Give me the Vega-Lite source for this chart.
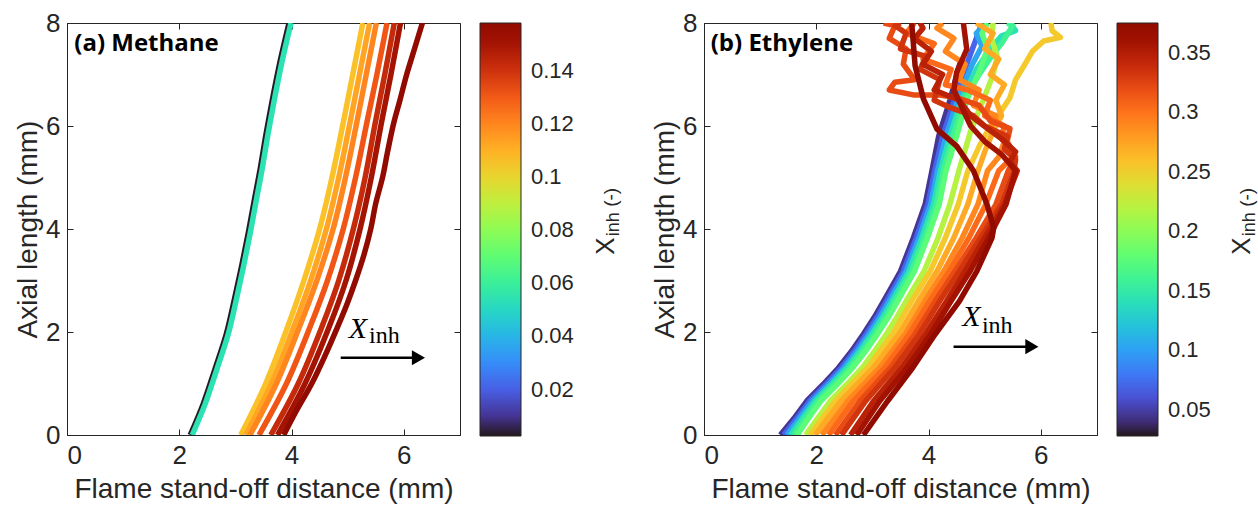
{
  "$schema": "https://vega.github.io/schema/vega-lite/v6.json",
  "background": "white",
  "padding": {"left": 14, "top": 9, "right": 0, "bottom": 0},
  "bounds": "flush",
  "spacing": 244,
  "datasets": {
    "methane": [
      {"s":"m0","v":0.003,"x":2.195,"y":0},{"s":"m0","v":0.003,"x":2.425,"y":0.6},{"s":"m0","v":0.003,"x":2.645,"y":1.31},{"s":"m0","v":0.003,"x":2.835,"y":1.95},{"s":"m0","v":0.003,"x":2.975,"y":2.6},{"s":"m0","v":0.003,"x":3.105,"y":3.25},{"s":"m0","v":0.003,"x":3.225,"y":3.9},{"s":"m0","v":0.003,"x":3.335,"y":4.55},{"s":"m0","v":0.003,"x":3.445,"y":5.19},{"s":"m0","v":0.003,"x":3.545,"y":5.84},{"s":"m0","v":0.003,"x":3.655,"y":6.49},{"s":"m0","v":0.003,"x":3.795,"y":7.25},{"s":"m0","v":0.003,"x":3.955,"y":8.0},
      {"s":"m1","v":0.054,"x":2.23,"y":0},{"s":"m1","v":0.054,"x":2.46,"y":0.6},{"s":"m1","v":0.054,"x":2.68,"y":1.31},{"s":"m1","v":0.054,"x":2.87,"y":1.95},{"s":"m1","v":0.054,"x":3.01,"y":2.6},{"s":"m1","v":0.054,"x":3.14,"y":3.25},{"s":"m1","v":0.054,"x":3.26,"y":3.9},{"s":"m1","v":0.054,"x":3.37,"y":4.55},{"s":"m1","v":0.054,"x":3.48,"y":5.19},{"s":"m1","v":0.054,"x":3.58,"y":5.84},{"s":"m1","v":0.054,"x":3.69,"y":6.49},{"s":"m1","v":0.054,"x":3.83,"y":7.25},{"s":"m1","v":0.054,"x":3.99,"y":8.0},
      {"s":"m2","v":0.106,"x":3.095,"y":0},{"s":"m2","v":0.106,"x":3.54,"y":1},{"s":"m2","v":0.106,"x":3.93,"y":2.1},{"s":"m2","v":0.106,"x":4.22,"y":3},{"s":"m2","v":0.106,"x":4.5,"y":4},{"s":"m2","v":0.106,"x":4.72,"y":5},{"s":"m2","v":0.106,"x":4.92,"y":6.06},{"s":"m2","v":0.106,"x":5.09,"y":7},{"s":"m2","v":0.106,"x":5.27,"y":8},
      {"s":"m3","v":0.113,"x":3.185,"y":0},{"s":"m3","v":0.113,"x":3.64,"y":1},{"s":"m3","v":0.113,"x":4.04,"y":2.1},{"s":"m3","v":0.113,"x":4.34,"y":3},{"s":"m3","v":0.113,"x":4.62,"y":4},{"s":"m3","v":0.113,"x":4.84,"y":5},{"s":"m3","v":0.113,"x":5.04,"y":6.06},{"s":"m3","v":0.113,"x":5.21,"y":7},{"s":"m3","v":0.113,"x":5.39,"y":8},
      {"s":"m4","v":0.12,"x":3.26,"y":0},{"s":"m4","v":0.12,"x":3.73,"y":1},{"s":"m4","v":0.12,"x":4.14,"y":2.1},{"s":"m4","v":0.12,"x":4.45,"y":3},{"s":"m4","v":0.12,"x":4.74,"y":4},{"s":"m4","v":0.12,"x":4.96,"y":5},{"s":"m4","v":0.12,"x":5.16,"y":6.06},{"s":"m4","v":0.12,"x":5.33,"y":7},{"s":"m4","v":0.12,"x":5.51,"y":8},
      {"s":"m5","v":0.131,"x":3.42,"y":0},{"s":"m5","v":0.131,"x":3.91,"y":1},{"s":"m5","v":0.131,"x":4.33,"y":2.1},{"s":"m5","v":0.131,"x":4.64,"y":3},{"s":"m5","v":0.131,"x":4.92,"y":4},{"s":"m5","v":0.131,"x":5.14,"y":5},{"s":"m5","v":0.131,"x":5.34,"y":6.06},{"s":"m5","v":0.131,"x":5.52,"y":7},{"s":"m5","v":0.131,"x":5.7,"y":8},
      {"s":"m6","v":0.142,"x":3.63,"y":0},{"s":"m6","v":0.142,"x":4.12,"y":1},{"s":"m6","v":0.142,"x":4.54,"y":2.1},{"s":"m6","v":0.142,"x":4.84,"y":3},{"s":"m6","v":0.142,"x":5.1,"y":4},{"s":"m6","v":0.142,"x":5.31,"y":5},{"s":"m6","v":0.142,"x":5.49,"y":6.06},{"s":"m6","v":0.142,"x":5.66,"y":7},{"s":"m6","v":0.142,"x":5.83,"y":8},
      {"s":"m7","v":0.15,"x":3.75,"y":0},{"s":"m7","v":0.15,"x":4.24,"y":1},{"s":"m7","v":0.15,"x":4.67,"y":2.1},{"s":"m7","v":0.15,"x":4.97,"y":3},{"s":"m7","v":0.15,"x":5.22,"y":4},{"s":"m7","v":0.15,"x":5.42,"y":5},{"s":"m7","v":0.15,"x":5.6,"y":6.06},{"s":"m7","v":0.15,"x":5.77,"y":7},{"s":"m7","v":0.15,"x":5.94,"y":8},
      {"s":"m8","v":0.158,"x":3.86,"y":0},{"s":"m8","v":0.158,"x":4.1,"y":0.5},{"s":"m8","v":0.158,"x":4.36,"y":1},{"s":"m8","v":0.158,"x":4.6,"y":1.55},{"s":"m8","v":0.158,"x":4.82,"y":2.1},{"s":"m8","v":0.158,"x":4.99,"y":2.55},{"s":"m8","v":0.158,"x":5.14,"y":3},{"s":"m8","v":0.158,"x":5.29,"y":3.5},{"s":"m8","v":0.158,"x":5.41,"y":4},{"s":"m8","v":0.158,"x":5.5,"y":4.5},{"s":"m8","v":0.158,"x":5.62,"y":5},{"s":"m8","v":0.158,"x":5.71,"y":5.5},{"s":"m8","v":0.158,"x":5.82,"y":6.06},{"s":"m8","v":0.158,"x":5.93,"y":6.5},{"s":"m8","v":0.158,"x":6.05,"y":7},{"s":"m8","v":0.158,"x":6.19,"y":7.5},{"s":"m8","v":0.158,"x":6.33,"y":8}
    ],
    "ethylene": [
      {"s":"c1","v":0.045,"x":1.36,"y":0},{"s":"c1","v":0.045,"x":1.6,"y":0.32},{"s":"c1","v":0.045,"x":1.83,"y":0.66},{"s":"c1","v":0.045,"x":2.12,"y":0.98},{"s":"c1","v":0.045,"x":2.4,"y":1.31},{"s":"c1","v":0.045,"x":2.63,"y":1.63},{"s":"c1","v":0.045,"x":2.84,"y":1.96},{"s":"c1","v":0.045,"x":3.03,"y":2.28},{"s":"c1","v":0.045,"x":3.2,"y":2.6},{"s":"c1","v":0.045,"x":3.5,"y":3.18},{"s":"c1","v":0.045,"x":3.73,"y":3.83},{"s":"c1","v":0.045,"x":3.94,"y":4.48},{"s":"c1","v":0.045,"x":4.06,"y":5.13},{"s":"c1","v":0.045,"x":4.18,"y":5.8},{"s":"c1","v":0.045,"x":4.38,"y":6.5},{"s":"c1","v":0.045,"x":4.58,"y":7.3},
      {"s":"c2","v":0.07,"x":1.42,"y":0},{"s":"c2","v":0.07,"x":1.65,"y":0.32},{"s":"c2","v":0.07,"x":1.88,"y":0.66},{"s":"c2","v":0.07,"x":2.17,"y":0.98},{"s":"c2","v":0.07,"x":2.45,"y":1.31},{"s":"c2","v":0.07,"x":2.68,"y":1.63},{"s":"c2","v":0.07,"x":2.89,"y":1.96},{"s":"c2","v":0.07,"x":3.08,"y":2.28},{"s":"c2","v":0.07,"x":3.25,"y":2.6},{"s":"c2","v":0.07,"x":3.55,"y":3.18},{"s":"c2","v":0.07,"x":3.78,"y":3.83},{"s":"c2","v":0.07,"x":3.99,"y":4.48},{"s":"c2","v":0.07,"x":4.11,"y":5.13},{"s":"c2","v":0.07,"x":4.25,"y":5.8},{"s":"c2","v":0.07,"x":4.46,"y":6.5},{"s":"c2","v":0.07,"x":4.68,"y":7.2},{"s":"c2","v":0.07,"x":4.85,"y":7.7},{"s":"c2","v":0.07,"x":4.95,"y":8.0},
      {"s":"c3","v":0.104,"x":1.48,"y":0},{"s":"c3","v":0.104,"x":1.7,"y":0.32},{"s":"c3","v":0.104,"x":1.93,"y":0.66},{"s":"c3","v":0.104,"x":2.22,"y":0.98},{"s":"c3","v":0.104,"x":2.5,"y":1.31},{"s":"c3","v":0.104,"x":2.73,"y":1.63},{"s":"c3","v":0.104,"x":2.94,"y":1.96},{"s":"c3","v":0.104,"x":3.13,"y":2.28},{"s":"c3","v":0.104,"x":3.3,"y":2.6},{"s":"c3","v":0.104,"x":3.6,"y":3.18},{"s":"c3","v":0.104,"x":3.83,"y":3.83},{"s":"c3","v":0.104,"x":4.04,"y":4.48},{"s":"c3","v":0.104,"x":4.16,"y":5.13},{"s":"c3","v":0.104,"x":4.31,"y":5.8},{"s":"c3","v":0.104,"x":4.52,"y":6.5},{"s":"c3","v":0.104,"x":4.78,"y":7.2},{"s":"c3","v":0.104,"x":4.95,"y":7.55},{"s":"c3","v":0.104,"x":4.85,"y":7.8},{"s":"c3","v":0.104,"x":5.05,"y":8.0},
      {"s":"c4","v":0.142,"x":1.54,"y":0},{"s":"c4","v":0.142,"x":1.75,"y":0.32},{"s":"c4","v":0.142,"x":1.98,"y":0.66},{"s":"c4","v":0.142,"x":2.27,"y":0.98},{"s":"c4","v":0.142,"x":2.55,"y":1.31},{"s":"c4","v":0.142,"x":2.78,"y":1.63},{"s":"c4","v":0.142,"x":2.99,"y":1.96},{"s":"c4","v":0.142,"x":3.18,"y":2.28},{"s":"c4","v":0.142,"x":3.35,"y":2.6},{"s":"c4","v":0.142,"x":3.65,"y":3.18},{"s":"c4","v":0.142,"x":3.88,"y":3.83},{"s":"c4","v":0.142,"x":4.09,"y":4.48},{"s":"c4","v":0.142,"x":4.21,"y":5.13},{"s":"c4","v":0.142,"x":4.38,"y":5.8},{"s":"c4","v":0.142,"x":4.58,"y":6.5},{"s":"c4","v":0.142,"x":4.85,"y":7.1},{"s":"c4","v":0.142,"x":5.1,"y":7.5},{"s":"c4","v":0.142,"x":5.3,"y":7.75},{"s":"c4","v":0.142,"x":5.55,"y":7.85},{"s":"c4","v":0.142,"x":5.45,"y":8.0},
      {"s":"c5","v":0.16,"x":1.6,"y":0},{"s":"c5","v":0.16,"x":1.8,"y":0.32},{"s":"c5","v":0.16,"x":2.03,"y":0.66},{"s":"c5","v":0.16,"x":2.32,"y":0.98},{"s":"c5","v":0.16,"x":2.6,"y":1.31},{"s":"c5","v":0.16,"x":2.83,"y":1.63},{"s":"c5","v":0.16,"x":3.04,"y":1.96},{"s":"c5","v":0.16,"x":3.23,"y":2.28},{"s":"c5","v":0.16,"x":3.4,"y":2.6},{"s":"c5","v":0.16,"x":3.7,"y":3.18},{"s":"c5","v":0.16,"x":3.93,"y":3.83},{"s":"c5","v":0.16,"x":4.14,"y":4.48},{"s":"c5","v":0.16,"x":4.26,"y":5.13},{"s":"c5","v":0.16,"x":4.44,"y":5.8},{"s":"c5","v":0.16,"x":4.62,"y":6.5},{"s":"c5","v":0.16,"x":4.9,"y":7.0},{"s":"c5","v":0.16,"x":5.15,"y":7.4},{"s":"c5","v":0.16,"x":5.3,"y":7.6},{"s":"c5","v":0.16,"x":5.5,"y":7.95},{"s":"c5","v":0.16,"x":5.4,"y":8.0},
      {"s":"c6","v":0.177,"x":1.66,"y":0},{"s":"c6","v":0.177,"x":1.86,"y":0.32},{"s":"c6","v":0.177,"x":2.08,"y":0.66},{"s":"c6","v":0.177,"x":2.37,"y":0.98},{"s":"c6","v":0.177,"x":2.65,"y":1.31},{"s":"c6","v":0.177,"x":2.88,"y":1.63},{"s":"c6","v":0.177,"x":3.09,"y":1.96},{"s":"c6","v":0.177,"x":3.28,"y":2.28},{"s":"c6","v":0.177,"x":3.45,"y":2.6},{"s":"c6","v":0.177,"x":3.75,"y":3.18},{"s":"c6","v":0.177,"x":3.98,"y":3.83},{"s":"c6","v":0.177,"x":4.19,"y":4.48},{"s":"c6","v":0.177,"x":4.31,"y":5.13},{"s":"c6","v":0.177,"x":4.5,"y":5.8},{"s":"c6","v":0.177,"x":4.68,"y":6.5},{"s":"c6","v":0.177,"x":4.92,"y":7.1},{"s":"c6","v":0.177,"x":5.05,"y":7.5},{"s":"c6","v":0.177,"x":4.95,"y":7.8},{"s":"c6","v":0.177,"x":5.05,"y":8.0},
      {"s":"yg","v":0.219,"x":1.81,"y":0},{"s":"yg","v":0.219,"x":2.02,"y":0.32},{"s":"yg","v":0.219,"x":2.25,"y":0.66},{"s":"yg","v":0.219,"x":2.54,"y":0.98},{"s":"yg","v":0.219,"x":2.82,"y":1.31},{"s":"yg","v":0.219,"x":3.04,"y":1.63},{"s":"yg","v":0.219,"x":3.25,"y":1.96},{"s":"yg","v":0.219,"x":3.43,"y":2.28},{"s":"yg","v":0.219,"x":3.6,"y":2.6},{"s":"yg","v":0.219,"x":3.92,"y":3.18},{"s":"yg","v":0.219,"x":4.17,"y":3.83},{"s":"yg","v":0.219,"x":4.38,"y":4.48},{"s":"yg","v":0.219,"x":4.54,"y":5.13},{"s":"yg","v":0.219,"x":4.75,"y":5.9},{"s":"yg","v":0.219,"x":4.98,"y":6.52},{"s":"yg","v":0.219,"x":5.15,"y":7.0},{"s":"yg","v":0.219,"x":5.22,"y":7.36},{"s":"yg","v":0.219,"x":5.12,"y":7.7},{"s":"yg","v":0.219,"x":5.15,"y":8.0},
      {"s":"w1","v":0.254,"x":1.89,"y":0},{"s":"w1","v":0.254,"x":2.34,"y":0.66},{"s":"w1","v":0.254,"x":2.92,"y":1.31},{"s":"w1","v":0.254,"x":3.36,"y":1.96},{"s":"w1","v":0.254,"x":3.7,"y":2.6},{"s":"w1","v":0.254,"x":4.03,"y":3.18},{"s":"w1","v":0.254,"x":4.3,"y":3.83},{"s":"w1","v":0.254,"x":4.53,"y":4.48},{"s":"w1","v":0.254,"x":4.7,"y":5.13},{"s":"w1","v":0.254,"x":4.9,"y":5.6},{"s":"w1","v":0.254,"x":5.1,"y":6.0},{"s":"w1","v":0.254,"x":5.3,"y":6.3},{"s":"w1","v":0.254,"x":5.45,"y":6.55},{"s":"w1","v":0.254,"x":5.55,"y":6.9},{"s":"w1","v":0.254,"x":5.7,"y":7.17},{"s":"w1","v":0.254,"x":5.85,"y":7.45},{"s":"w1","v":0.254,"x":6.05,"y":7.65},{"s":"w1","v":0.254,"x":6.35,"y":7.72},{"s":"w1","v":0.254,"x":6.2,"y":7.85},{"s":"w1","v":0.254,"x":6.18,"y":8.0},
      {"s":"w2","v":0.272,"x":1.98,"y":0},{"s":"w2","v":0.272,"x":2.44,"y":0.66},{"s":"w2","v":0.272,"x":3.02,"y":1.31},{"s":"w2","v":0.272,"x":3.47,"y":1.96},{"s":"w2","v":0.272,"x":3.82,"y":2.6},{"s":"w2","v":0.272,"x":4.15,"y":3.18},{"s":"w2","v":0.272,"x":4.45,"y":3.83},{"s":"w2","v":0.272,"x":4.7,"y":4.48},{"s":"w2","v":0.272,"x":4.88,"y":5.13},{"s":"w2","v":0.272,"x":5.0,"y":5.5},{"s":"w2","v":0.272,"x":5.15,"y":5.9},{"s":"w2","v":0.272,"x":5.3,"y":6.2},{"s":"w2","v":0.272,"x":5.2,"y":6.5},{"s":"w2","v":0.272,"x":5.35,"y":6.8},{"s":"w2","v":0.272,"x":5.1,"y":7.0},{"s":"w2","v":0.272,"x":5.25,"y":7.3},{"s":"w2","v":0.272,"x":5.0,"y":7.5},{"s":"w2","v":0.272,"x":5.15,"y":7.8},{"s":"w2","v":0.272,"x":4.85,"y":8.0},
      {"s":"w3","v":0.29,"x":2.1,"y":0},{"s":"w3","v":0.29,"x":2.56,"y":0.66},{"s":"w3","v":0.29,"x":3.13,"y":1.31},{"s":"w3","v":0.29,"x":3.58,"y":1.96},{"s":"w3","v":0.29,"x":3.93,"y":2.6},{"s":"w3","v":0.29,"x":4.27,"y":3.18},{"s":"w3","v":0.29,"x":4.6,"y":3.83},{"s":"w3","v":0.29,"x":4.88,"y":4.48},{"s":"w3","v":0.29,"x":5.05,"y":5.13},{"s":"w3","v":0.29,"x":5.25,"y":5.4},{"s":"w3","v":0.29,"x":5.35,"y":5.7},{"s":"w3","v":0.29,"x":5.1,"y":5.95},{"s":"w3","v":0.29,"x":5.2,"y":6.2},{"s":"w3","v":0.29,"x":4.8,"y":6.4},{"s":"w3","v":0.29,"x":4.9,"y":6.7},{"s":"w3","v":0.29,"x":4.55,"y":6.9},{"s":"w3","v":0.29,"x":4.65,"y":7.2},{"s":"w3","v":0.29,"x":4.3,"y":7.45},{"s":"w3","v":0.29,"x":4.45,"y":7.7},{"s":"w3","v":0.29,"x":4.15,"y":7.9},{"s":"w3","v":0.29,"x":4.25,"y":8.0},
      {"s":"w4","v":0.305,"x":2.22,"y":0},{"s":"w4","v":0.305,"x":2.66,"y":0.66},{"s":"w4","v":0.305,"x":3.22,"y":1.31},{"s":"w4","v":0.305,"x":3.66,"y":1.96},{"s":"w4","v":0.305,"x":4.02,"y":2.6},{"s":"w4","v":0.305,"x":4.37,"y":3.18},{"s":"w4","v":0.305,"x":4.72,"y":3.83},{"s":"w4","v":0.305,"x":5.02,"y":4.48},{"s":"w4","v":0.305,"x":5.25,"y":5.13},{"s":"w4","v":0.305,"x":5.5,"y":5.4},{"s":"w4","v":0.305,"x":5.3,"y":5.8},{"s":"w4","v":0.305,"x":5.35,"y":6.0},{"s":"w4","v":0.305,"x":5.0,"y":6.2},{"s":"w4","v":0.305,"x":5.1,"y":6.5},{"s":"w4","v":0.305,"x":4.7,"y":6.7},{"s":"w4","v":0.305,"x":4.3,"y":6.8},{"s":"w4","v":0.305,"x":4.4,"y":7.1},{"s":"w4","v":0.305,"x":3.9,"y":7.3},{"s":"w4","v":0.305,"x":4.1,"y":7.6},{"s":"w4","v":0.305,"x":3.6,"y":7.8},{"s":"w4","v":0.305,"x":3.75,"y":8.0},
      {"s":"w5","v":0.32,"x":2.34,"y":0},{"s":"w5","v":0.32,"x":2.78,"y":0.66},{"s":"w5","v":0.32,"x":3.32,"y":1.31},{"s":"w5","v":0.32,"x":3.76,"y":1.96},{"s":"w5","v":0.32,"x":4.12,"y":2.6},{"s":"w5","v":0.32,"x":4.47,"y":3.18},{"s":"w5","v":0.32,"x":4.85,"y":3.83},{"s":"w5","v":0.32,"x":5.2,"y":4.48},{"s":"w5","v":0.32,"x":5.42,"y":5.13},{"s":"w5","v":0.32,"x":5.55,"y":5.4},{"s":"w5","v":0.32,"x":5.4,"y":5.7},{"s":"w5","v":0.32,"x":5.45,"y":5.95},{"s":"w5","v":0.32,"x":5.1,"y":6.1},{"s":"w5","v":0.32,"x":4.9,"y":6.4},{"s":"w5","v":0.32,"x":4.5,"y":6.55},{"s":"w5","v":0.32,"x":4.2,"y":6.6},{"s":"w5","v":0.32,"x":3.75,"y":6.6},{"s":"w5","v":0.32,"x":3.3,"y":6.7},{"s":"w5","v":0.32,"x":3.4,"y":6.85},{"s":"w5","v":0.32,"x":3.75,"y":6.9},{"s":"w5","v":0.32,"x":3.55,"y":7.2},{"s":"w5","v":0.32,"x":3.6,"y":7.5},{"s":"w5","v":0.32,"x":3.3,"y":7.7},{"s":"w5","v":0.32,"x":3.4,"y":7.95},{"s":"w5","v":0.32,"x":3.2,"y":8.0},
      {"s":"w6","v":0.333,"x":2.45,"y":0},{"s":"w6","v":0.333,"x":2.88,"y":0.66},{"s":"w6","v":0.333,"x":3.4,"y":1.31},{"s":"w6","v":0.333,"x":3.84,"y":1.96},{"s":"w6","v":0.333,"x":4.2,"y":2.6},{"s":"w6","v":0.333,"x":4.55,"y":3.18},{"s":"w6","v":0.333,"x":4.93,"y":3.83},{"s":"w6","v":0.333,"x":5.3,"y":4.48},{"s":"w6","v":0.333,"x":5.52,"y":5.13},{"s":"w6","v":0.333,"x":5.55,"y":5.35},{"s":"w6","v":0.333,"x":5.35,"y":5.55},{"s":"w6","v":0.333,"x":5.4,"y":5.8},{"s":"w6","v":0.333,"x":5.0,"y":6.0},{"s":"w6","v":0.333,"x":4.8,"y":6.2},{"s":"w6","v":0.333,"x":4.4,"y":6.35},{"s":"w6","v":0.333,"x":4.1,"y":6.5},{"s":"w6","v":0.333,"x":4.2,"y":6.9},{"s":"w6","v":0.333,"x":3.85,"y":7.1},{"s":"w6","v":0.333,"x":3.95,"y":7.35},{"s":"w6","v":0.333,"x":3.5,"y":7.5},{"s":"w6","v":0.333,"x":3.6,"y":7.8},{"s":"w6","v":0.333,"x":3.4,"y":7.95},{"s":"w6","v":0.333,"x":3.5,"y":8.0},
      {"s":"w7","v":0.345,"x":2.61,"y":0},{"s":"w7","v":0.345,"x":3.02,"y":0.66},{"s":"w7","v":0.345,"x":3.52,"y":1.31},{"s":"w7","v":0.345,"x":3.95,"y":1.96},{"s":"w7","v":0.345,"x":4.32,"y":2.6},{"s":"w7","v":0.345,"x":4.65,"y":3.18},{"s":"w7","v":0.345,"x":5.0,"y":3.83},{"s":"w7","v":0.345,"x":5.35,"y":4.48},{"s":"w7","v":0.345,"x":5.58,"y":5.13},{"s":"w7","v":0.345,"x":5.45,"y":5.3},{"s":"w7","v":0.345,"x":5.55,"y":5.5},{"s":"w7","v":0.345,"x":5.3,"y":5.75},{"s":"w7","v":0.345,"x":5.05,"y":5.95},{"s":"w7","v":0.345,"x":4.75,"y":6.2},{"s":"w7","v":0.345,"x":4.55,"y":6.5},{"s":"w7","v":0.345,"x":4.1,"y":6.7},{"s":"w7","v":0.345,"x":4.25,"y":7.0},{"s":"w7","v":0.345,"x":3.9,"y":7.2},{"s":"w7","v":0.345,"x":4.05,"y":7.45},{"s":"w7","v":0.345,"x":3.75,"y":7.7},{"s":"w7","v":0.345,"x":3.9,"y":7.9},{"s":"w7","v":0.345,"x":3.85,"y":8.0},
      {"s":"w8","v":0.358,"x":2.72,"y":0},{"s":"w8","v":0.358,"x":3.13,"y":0.66},{"s":"w8","v":0.358,"x":3.62,"y":1.31},{"s":"w8","v":0.358,"x":4.04,"y":1.96},{"s":"w8","v":0.358,"x":4.4,"y":2.6},{"s":"w8","v":0.358,"x":4.74,"y":3.18},{"s":"w8","v":0.358,"x":5.07,"y":3.83},{"s":"w8","v":0.358,"x":5.38,"y":4.48},{"s":"w8","v":0.358,"x":5.55,"y":5.13},{"s":"w8","v":0.358,"x":5.3,"y":5.45},{"s":"w8","v":0.358,"x":5.0,"y":5.7},{"s":"w8","v":0.358,"x":4.75,"y":6.0},{"s":"w8","v":0.358,"x":4.6,"y":6.35},{"s":"w8","v":0.358,"x":4.45,"y":6.7},{"s":"w8","v":0.358,"x":4.5,"y":7.04},{"s":"w8","v":0.358,"x":4.68,"y":7.49},{"s":"w8","v":0.358,"x":4.62,"y":8.0},
      {"s":"w9","v":0.375,"x":2.84,"y":0},{"s":"w9","v":0.375,"x":3.27,"y":0.66},{"s":"w9","v":0.375,"x":3.72,"y":1.31},{"s":"w9","v":0.375,"x":4.12,"y":1.96},{"s":"w9","v":0.375,"x":4.55,"y":2.6},{"s":"w9","v":0.375,"x":4.86,"y":3.18},{"s":"w9","v":0.375,"x":5.13,"y":3.83},{"s":"w9","v":0.375,"x":5.16,"y":4.02},{"s":"w9","v":0.375,"x":5.04,"y":4.48},{"s":"w9","v":0.375,"x":4.8,"y":5.13},{"s":"w9","v":0.375,"x":4.5,"y":5.61},{"s":"w9","v":0.375,"x":4.15,"y":5.94},{"s":"w9","v":0.375,"x":3.91,"y":6.52},{"s":"w9","v":0.375,"x":3.76,"y":7.17},{"s":"w9","v":0.375,"x":3.7,"y":8.0}
    ]
  },
  "hconcat": [
    {
      "width": 393,
      "height": 412,
      "resolve": {"axis": {"x": "independent", "y": "independent"}},
      "layer": [
        {
          "data": {"name": "methane"},
          "mark": {"type": "line", "strokeWidth": 5.5, "strokeCap": "butt", "strokeJoin": "round", "interpolate": "catmull-rom", "clip": true},
          "encoding": {
            "x": {"field": "x", "type": "quantitative", "scale": {"domain": [0, 7], "nice": false, "zero": false}, "axis": {"title": "Flame stand-off distance (mm)", "values": [0, 2, 4, 6], "orient": "bottom"}},
            "y": {"field": "y", "type": "quantitative", "scale": {"domain": [0, 8], "nice": false}, "axis": {"title": "Axial length (mm)", "values": [0, 2, 4, 6, 8], "orient": "left"}},
            "color": {"field": "v", "type": "quantitative", "scale": {"scheme": "turbo", "domain": [0.0025, 0.158]},
              "legend": {"title": null, "values": [0.02, 0.04, 0.06, 0.08, 0.1, 0.12, 0.14], "format": "~g", "labelOffset": 10}},
            "detail": {"field": "s"},
            "order": {"value": null}
          }
        },
        {
          "data": {"values": [{}]},
          "mark": {"type": "text", "text": "(a) Methane", "font": "Open Sans", "fontWeight": "bold", "fontSize": 24, "align": "left", "baseline": "middle", "color": "black"},
          "encoding": {
            "x": {"datum": 0.13, "type": "quantitative", "axis": {"orient": "top", "labels": false, "title": null, "values": [0, 2, 4, 6], "domain": false}},
            "y": {"datum": 7.6, "type": "quantitative", "axis": {"orient": "right", "labels": false, "title": null, "values": [0, 2, 4, 6, 8], "domain": false}}
          }
        },
        {
          "data": {"values": [{}]},
          "mark": {"type": "rule", "strokeWidth": 2.5, "color": "black"},
          "encoding": {
            "x": {"datum": 4.875, "type": "quantitative", "axis": null},
            "x2": {"datum": 6.2},
            "y": {"datum": 1.5, "type": "quantitative", "axis": null}
          }
        },
        {
          "data": {"values": [{}]},
          "mark": {"type": "point", "shape": "triangle-right", "filled": true, "size": 230, "color": "black", "opacity": 1},
          "encoding": {
            "x": {"datum": 6.26, "type": "quantitative", "axis": null},
            "y": {"datum": 1.5, "type": "quantitative", "axis": null}
          }
        },
        {
          "data": {"values": [{}]},
          "mark": {"type": "text", "text": "X", "font": "Liberation Serif", "fontStyle": "italic", "fontSize": 30, "align": "left", "baseline": "alphabetic", "color": "black"},
          "encoding": {
            "x": {"datum": 5.02, "type": "quantitative", "axis": null},
            "y": {"datum": 1.88, "type": "quantitative", "axis": null}
          }
        },
        {
          "data": {"values": [{}]},
          "mark": {"type": "text", "text": "inh", "font": "Liberation Serif", "fontSize": 24, "align": "left", "baseline": "alphabetic", "color": "black"},
          "encoding": {
            "x": {"datum": 5.38, "type": "quantitative", "axis": null},
            "y": {"datum": 1.78, "type": "quantitative", "axis": null}
          }
        },
        {
          "data": {"values": [{}]},
          "mark": {"type": "text", "text": "X", "font": "Liberation Sans", "fontSize": 26, "angle": 270, "align": "left", "baseline": "alphabetic", "color": "#262626"},
          "encoding": {
            "x": {"datum": 9.74, "type": "quantitative", "axis": null},
            "y": {"datum": 3.5, "type": "quantitative", "axis": null}
          }
        },
        {
          "data": {"values": [{}]},
          "mark": {"type": "text", "text": "inh", "font": "Liberation Sans", "fontSize": 18, "angle": 270, "align": "left", "baseline": "alphabetic", "color": "#262626"},
          "encoding": {
            "x": {"datum": 9.84, "type": "quantitative", "axis": null},
            "y": {"datum": 3.86, "type": "quantitative", "axis": null}
          }
        },
        {
          "data": {"values": [{}]},
          "mark": {"type": "text", "text": "(-)", "font": "Liberation Sans", "fontSize": 19, "angle": 270, "align": "left", "baseline": "alphabetic", "color": "#262626"},
          "encoding": {
            "x": {"datum": 9.8, "type": "quantitative", "axis": null},
            "y": {"datum": 4.43, "type": "quantitative", "axis": null}
          }
        }
      ]
    },
    {
      "width": 393,
      "height": 412,
      "resolve": {"axis": {"x": "independent", "y": "independent"}},
      "layer": [
        {
          "data": {"name": "ethylene"},
          "mark": {"type": "line", "strokeWidth": 5.5, "strokeCap": "butt", "strokeJoin": "round", "clip": true},
          "encoding": {
            "x": {"field": "x", "type": "quantitative", "scale": {"domain": [0, 7], "nice": false, "zero": false}, "axis": {"title": "Flame stand-off distance (mm)", "values": [0, 2, 4, 6], "orient": "bottom"}},
            "y": {"field": "y", "type": "quantitative", "scale": {"domain": [0, 8], "nice": false}, "axis": {"title": "Axial length (mm)", "values": [0, 2, 4, 6, 8], "orient": "left"}},
            "color": {"field": "v", "type": "quantitative", "scale": {"scheme": "turbo", "domain": [0.028, 0.375]},
              "legend": {"title": null, "values": [0.05, 0.1, 0.15, 0.2, 0.25, 0.3, 0.35], "format": "~g", "labelOffset": 10}},
            "detail": {"field": "s"},
            "order": {"value": null}
          }
        },
        {
          "data": {"values": [{}]},
          "mark": {"type": "text", "text": "(b) Ethylene", "font": "Open Sans", "fontWeight": "bold", "fontSize": 24, "align": "left", "baseline": "middle", "color": "black"},
          "encoding": {
            "x": {"datum": 0.12, "type": "quantitative", "axis": {"orient": "top", "labels": false, "title": null, "values": [0, 2, 4, 6], "domain": false}},
            "y": {"datum": 7.6, "type": "quantitative", "axis": {"orient": "right", "labels": false, "title": null, "values": [0, 2, 4, 6, 8], "domain": false}}
          }
        },
        {
          "data": {"values": [{}]},
          "mark": {"type": "rule", "strokeWidth": 2.5, "color": "black"},
          "encoding": {
            "x": {"datum": 4.445, "type": "quantitative", "axis": null},
            "x2": {"datum": 5.8},
            "y": {"datum": 1.715, "type": "quantitative", "axis": null}
          }
        },
        {
          "data": {"values": [{}]},
          "mark": {"type": "point", "shape": "triangle-right", "filled": true, "size": 230, "color": "black", "opacity": 1},
          "encoding": {
            "x": {"datum": 5.84, "type": "quantitative", "axis": null},
            "y": {"datum": 1.715, "type": "quantitative", "axis": null}
          }
        },
        {
          "data": {"values": [{}]},
          "mark": {"type": "text", "text": "X", "font": "Liberation Serif", "fontStyle": "italic", "fontSize": 30, "align": "left", "baseline": "alphabetic", "color": "black"},
          "encoding": {
            "x": {"datum": 4.6, "type": "quantitative", "axis": null},
            "y": {"datum": 2.12, "type": "quantitative", "axis": null}
          }
        },
        {
          "data": {"values": [{}]},
          "mark": {"type": "text", "text": "inh", "font": "Liberation Serif", "fontSize": 24, "align": "left", "baseline": "alphabetic", "color": "black"},
          "encoding": {
            "x": {"datum": 4.95, "type": "quantitative", "axis": null},
            "y": {"datum": 1.98, "type": "quantitative", "axis": null}
          }
        },
        {
          "data": {"values": [{}]},
          "mark": {"type": "text", "text": "X", "font": "Liberation Sans", "fontSize": 26, "angle": 270, "align": "left", "baseline": "alphabetic", "color": "#262626"},
          "encoding": {
            "x": {"datum": 9.72, "type": "quantitative", "axis": null},
            "y": {"datum": 3.5, "type": "quantitative", "axis": null}
          }
        },
        {
          "data": {"values": [{}]},
          "mark": {"type": "text", "text": "inh", "font": "Liberation Sans", "fontSize": 18, "angle": 270, "align": "left", "baseline": "alphabetic", "color": "#262626"},
          "encoding": {
            "x": {"datum": 9.82, "type": "quantitative", "axis": null},
            "y": {"datum": 3.86, "type": "quantitative", "axis": null}
          }
        },
        {
          "data": {"values": [{}]},
          "mark": {"type": "text", "text": "(-)", "font": "Liberation Sans", "fontSize": 19, "angle": 270, "align": "left", "baseline": "alphabetic", "color": "#262626"},
          "encoding": {
            "x": {"datum": 9.78, "type": "quantitative", "axis": null},
            "y": {"datum": 4.43, "type": "quantitative", "axis": null}
          }
        }
      ]
    }
  ],
  "resolve": {"scale": {"color": "independent"}},
  "config": {
    "view": {"stroke": "#262626", "strokeWidth": 1},
    "axis": {
      "grid": false,
      "labelFont": "Liberation Sans",
      "titleFont": "Liberation Sans",
      "labelFontSize": 26,
      "titleFontSize": 28,
      "titleFontWeight": "normal",
      "labelColor": "#262626",
      "titleColor": "#262626",
      "domainColor": "#262626",
      "tickColor": "#262626",
      "tickSize": -6,
      "labelPadding": 13
    },
    "axisX": {"titlePadding": 7},
    "axisY": {"titlePadding": 3},
    "legend": {
      "orient": "right",
      "offset": 19,
      "gradientLength": 413,
      "gradientThickness": 41,
      "gradientStrokeColor": "#262626",
      "gradientStrokeWidth": 1,
      "labelFont": "Liberation Sans",
      "labelFontSize": 22,
      "labelColor": "#262626",
      "labelOverlap": false
    }
  }
}
